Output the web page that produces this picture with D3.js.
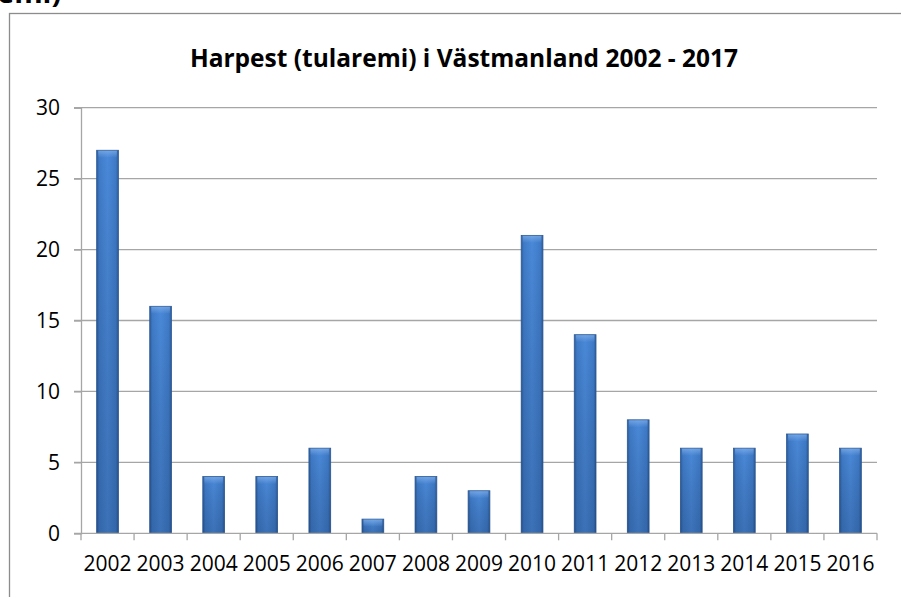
<!DOCTYPE html>
<html>
<head>
<meta charset="utf-8">
<script src="https://cdn.jsdelivr.net/npm/d3@7"></script>
<style>
  body { margin: 0; background: #fff; }
  svg { display: block; font-family: "Open Sans", sans-serif; }
</style>
</head>
<body>
<svg width="901" height="597"></svg>
<script>
// data
const years = ["2002","2003","2004","2005","2006","2007","2008","2009","2010","2011","2012","2013","2014","2015","2016"];
const cases = [27, 16, 4, 4, 6, 1, 4, 3, 21, 14, 8, 6, 6, 7, 6];
const yTicks = [0, 5, 10, 15, 20, 25, 30];

const svg = d3.select("svg");
const plot = {left: 81, right: 877, top: 107.7, bottom: 533.3};

// clipped heading from the page above
svg.append("text").attr("x", -3).attr("y", 3)
  .style("font-size", "29px").style("font-weight", "bold").text("emi)");

// chart frame
svg.append("rect").attr("x", 9.5).attr("y", 13.5).attr("width", 920).attr("height", 620)
  .attr("fill", "none").attr("stroke", "#8c8c8c").attr("stroke-width", 1.3);

svg.append("text").attr("x", 464).attr("y", 67).attr("text-anchor", "middle")
  .style("font-size", "24.5px").style("font-weight", "bold").text("Harpest (tularemi) i Västmanland 2002 - 2017");

const x = d3.scaleBand().domain(years).range([plot.left, plot.right]).paddingInner(0.59).paddingOuter(0.295);
const y = d3.scaleLinear().domain([0, 30]).range([plot.bottom, plot.top]);

const defs = svg.append("defs");
const gh = defs.append("linearGradient").attr("id", "gh").attr("x1", 0).attr("x2", 1).attr("y1", 0).attr("y2", 0);
gh.append("stop").attr("offset", "0%").attr("stop-color", "#2c5c9c");
gh.append("stop").attr("offset", "12%").attr("stop-color", "#3f7bc8");
gh.append("stop").attr("offset", "50%").attr("stop-color", "#4a89d9");
gh.append("stop").attr("offset", "88%").attr("stop-color", "#3f7bc8");
gh.append("stop").attr("offset", "100%").attr("stop-color", "#2c5c9c");
const gv = defs.append("linearGradient").attr("id", "gv").attr("x1", 0).attr("x2", 0).attr("y1", 0).attr("y2", 1);
gv.append("stop").attr("offset", "0%").attr("stop-color", "#000").attr("stop-opacity", 0);
gv.append("stop").attr("offset", "100%").attr("stop-color", "#0a1e40").attr("stop-opacity", 0.22);
const gt = defs.append("linearGradient").attr("id", "gt").attr("x1", 0).attr("x2", 0).attr("y1", 0).attr("y2", 1);
gt.append("stop").attr("offset", "0%").attr("stop-color", "#8cb8ee").attr("stop-opacity", 0.6);
gt.append("stop").attr("offset", "100%").attr("stop-color", "#8cb8ee").attr("stop-opacity", 0);

// gridlines
svg.append("g").selectAll("line").data(yTicks.slice(1)).join("line")
  .attr("x1", plot.left - 7).attr("x2", plot.right)
  .attr("y1", d => y(d)).attr("y2", d => y(d))
  .attr("stroke", "#a6a6a6").attr("stroke-width", 1.3);

// y axis
const yAxis = svg.append("g").attr("transform", `translate(${plot.left},0)`)
  .call(d3.axisLeft(y).tickValues(yTicks).tickSize(7).tickPadding(14));
yAxis.select(".domain").attr("stroke", "#a6a6a6").attr("stroke-width", 1.3);
yAxis.selectAll(".tick line").attr("stroke", "#a6a6a6").attr("stroke-width", 1.3);
yAxis.selectAll("text").style("font-size", "21px").attr("fill", "#000").style("font-family", "Open Sans");

// bars
const bars = svg.append("g").selectAll("g").data(years).join("g");
bars.append("rect")
  .attr("x", d => x(d)).attr("width", x.bandwidth())
  .attr("y", (d, i) => y(cases[i])).attr("height", (d, i) => y(0) - y(cases[i]))
  .attr("fill", "url(#gh)").attr("stroke", "#2f5a94").attr("stroke-width", 0.8);
bars.append("rect")
  .attr("x", d => x(d)).attr("width", x.bandwidth())
  .attr("y", (d, i) => y(cases[i])).attr("height", (d, i) => y(0) - y(cases[i]))
  .attr("fill", "url(#gv)");
bars.append("rect")
  .attr("x", d => x(d) + 1.5).attr("width", x.bandwidth() - 3)
  .attr("y", (d, i) => y(cases[i]) + 0.5).attr("height", (d, i) => Math.min(7, y(0) - y(cases[i]) - 1))
  .attr("fill", "url(#gt)");

// x axis with ticks between categories
const xg = svg.append("g").attr("transform", `translate(0,${plot.bottom})`);
xg.append("line").attr("x1", plot.left - 7).attr("x2", plot.right)
  .attr("stroke", "#a6a6a6").attr("stroke-width", 1.3);
xg.selectAll("line.t").data(d3.range(years.length + 1)).join("line").attr("class", "t")
  .attr("x1", i => plot.left + i * x.step())
  .attr("x2", i => plot.left + i * x.step())
  .attr("y1", 0).attr("y2", 7)
  .attr("stroke", "#a6a6a6").attr("stroke-width", 1.3);
xg.selectAll("text").data(years).join("text")
  .attr("x", d => x(d) + x.bandwidth() / 2).attr("y", 38)
  .attr("text-anchor", "middle").style("font-size", "21px").text(d => d);
</script>
</body>
</html>
